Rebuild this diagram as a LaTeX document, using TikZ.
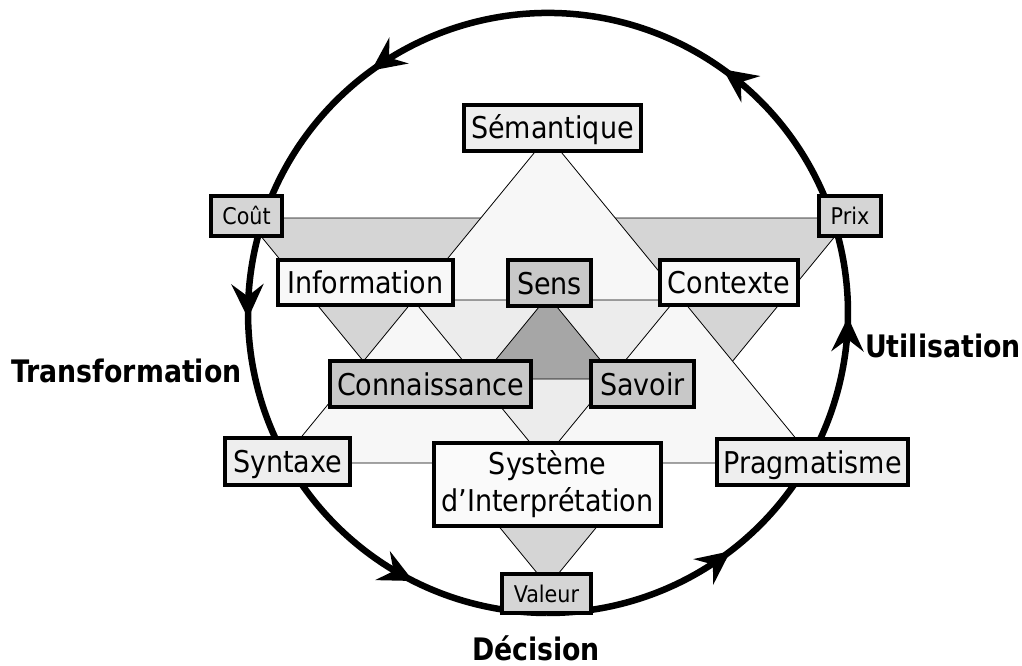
\documentclass[tikz,border=0pt]{standalone}
\usepackage{fontspec}
\setmainfont{DejaVu Sans Condensed}
\usetikzlibrary{arrows.meta,decorations.markings,calc}

\definecolor{starpt}{HTML}{D5D5D5}
\definecolor{pale}{HTML}{F7F7F7}
\definecolor{innerfill}{HTML}{ECECEC}
\definecolor{darkfill}{HTML}{A6A6A6}
\definecolor{boxmid}{HTML}{C8C8C8}
\definecolor{boxlight}{HTML}{EEEEEE}
\definecolor{boxwhite}{HTML}{F8F8F8}
\definecolor{boxpure}{HTML}{FAFAFA}

\tikzset{
  facet/.style={draw=black, line width=0.8pt, line join=miter},
  framed/.style={draw=black, line width=4pt, inner sep=0pt,
    font=\fontsize{30}{37}\selectfont},
  term/.style={framed, text height=22pt, text depth=0pt},
  tag/.style={framed, font=\fontsize{23}{28}\selectfont, text height=17pt, text depth=0pt},
  cyclearc/.style={line width=6.5pt, postaction=decorate},
  axislabel/.style={font=\bfseries\fontsize{31}{37}\selectfont, inner sep=0pt, anchor=base},
  >={Stealth[length=34pt,width=32pt,inset=12pt]},
}

\begin{document}
\begin{tikzpicture}[x=1pt,y=-1pt]
\useasboundingbox (0,0) rectangle (1022,666);

% centre of the cycle
\coordinate (o) at (548,313);

% downward triangle (grey points)
\filldraw[facet, fill=starpt] (246,218) -- (850,218) -- (548,586.3) -- cycle;
% upward triangle (pale points)
\filldraw[facet, fill=pale] (548,136) -- (280,463) -- (816,463) -- cycle;
% inner downward triangle
\filldraw[facet, fill=innerfill] (413.2,300) -- (675,300) -- (544,459.5) -- cycle;
% dark core triangle under Sens
\filldraw[facet, fill=darkfill] (548,296) -- (480,379) -- (616,379) -- cycle;

% the cycle arcs
\draw[cyclearc, decoration={markings,
    mark=at position 0.253 with {\arrow{>}},
    mark=at position 0.75 with {\arrow{>}}}]
  ($(o)+(-17.8:300)$) arc[start angle=-17.8, end angle=-162.2, radius=300];
\draw[cyclearc, decoration={markings, mark=at position 0.396 with {\arrow{>}}}]
  ($(o)+(197.8:300)$) arc[start angle=197.8, end angle=150.3, radius=300];
\draw[cyclearc, decoration={markings, mark=at position 0.56 with {\arrow{>}}}]
  ($(o)+(150.3:300)$) arc[start angle=150.3, end angle=90.3, radius=300];
\draw[cyclearc, decoration={markings, mark=at position 0.62 with {\arrow{>}}}]
  ($(o)+(90.3:300)$) arc[start angle=90.3, end angle=29.4, radius=300];
\draw[cyclearc, decoration={markings, mark=at position 0.606 with {\arrow{>}}}]
  ($(o)+(29.4:300)$) arc[start angle=29.4, end angle=-17.8, radius=300];

% boxes
\node[term, fill=boxlight, minimum width=177pt, minimum height=46pt] (sem) at (552.5,128) {Sémantique};
\node[tag, fill=starpt, minimum width=71pt, minimum height=40pt] (cout) at (246.5,216) {Coût};
\node[tag, fill=starpt, minimum width=62pt, minimum height=40pt] (prix) at (850,216) {Prix};
\node[term, fill=boxwhite, minimum width=175pt, minimum height=45pt] (info) at (365.5,282.5) {Information};
\node[term, fill=boxmid, minimum width=83pt, minimum height=46pt] (sens) at (549.5,283) {Sens};
\node[term, fill=boxwhite, minimum width=138pt, minimum height=45pt] (ctx) at (729,282.5) {Contexte};
\node[term, fill=boxmid, minimum width=201pt, minimum height=46pt] (conn) at (430.5,384) {Connaissance};
\node[term, fill=boxmid, minimum width=103pt, minimum height=46pt] (sav) at (642.5,384) {Savoir};
\node[term, fill=boxlight, minimum width=125pt, minimum height=47pt] (syn) at (287.5,461.5) {Syntaxe};
\node[framed, fill=boxpure, minimum width=227pt, minimum height=83pt, align=center] (sys) at (547.5,484) {Système\\d’Interprétation};
\node[term, fill=boxlight, minimum width=191pt, minimum height=46pt] (prag) at (812.5,462) {Pragmatisme};
\node[tag, fill=starpt, minimum width=89pt, minimum height=39pt] (val) at (546.5,593.5) {Valeur};

% phase labels
\node[axislabel] (ltrans) at (126.5,382) {\scalebox{0.96}[1]{Transformation}};
\node[axislabel] (lutil) at (943,357) {\scalebox{0.96}[1]{Utilisation}};
\node[axislabel] (ldec) at (536,660) {\scalebox{0.96}[1]{Décision}};
\end{tikzpicture}
\end{document}
